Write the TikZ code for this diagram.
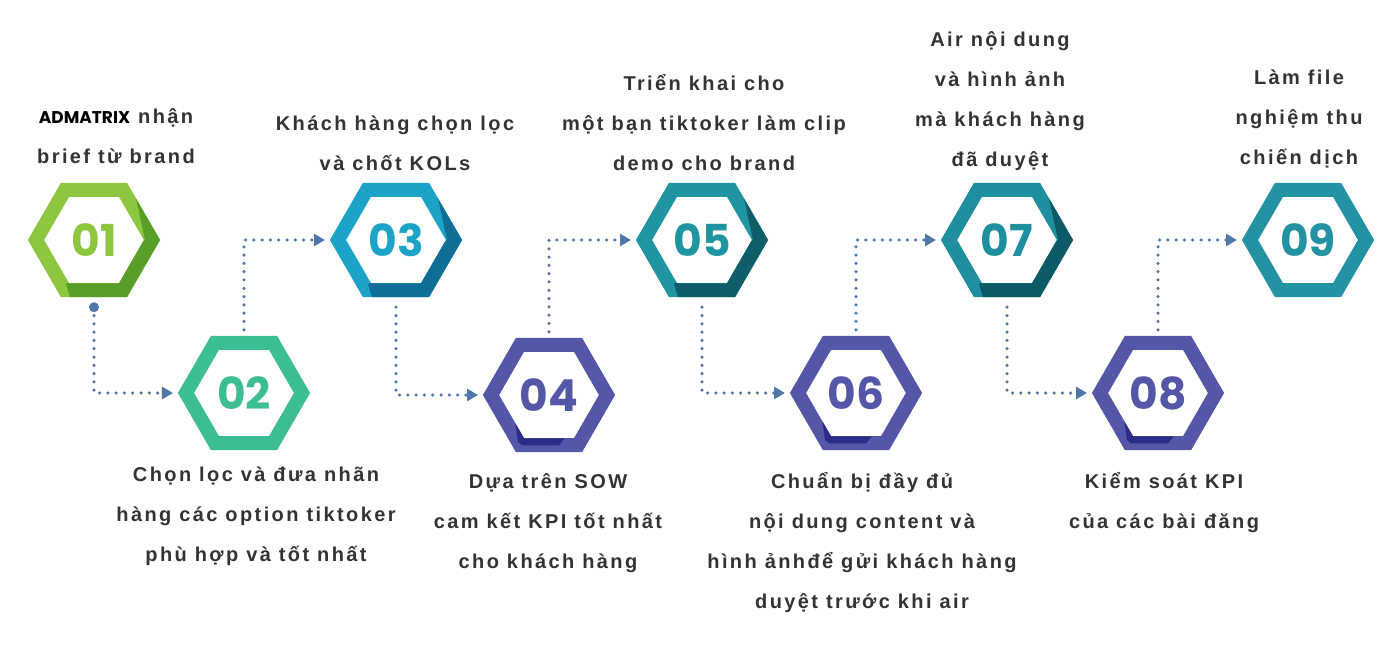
\documentclass[tikz,border=0pt]{standalone}
\usepackage{fontspec}
\setmainfont{Liberation Sans}
\newfontfamily\stepfont{Liberation Sans}[LetterSpace=12]
\newfontfamily\numfont{Poppins}
\usetikzlibrary{shapes.geometric, arrows.meta}
\definecolor{lime1}{HTML}{8DC63F}
\definecolor{lime2}{HTML}{5A9E2A}
\definecolor{mint1}{HTML}{3DBD93}
\definecolor{sky1}{HTML}{1CA4C8}
\definecolor{sky2}{HTML}{0E6E96}
\definecolor{indigo1}{HTML}{5457A8}
\definecolor{indigo2}{HTML}{2A2C86}
\definecolor{teal1}{HTML}{1F95A2}
\definecolor{teal2}{HTML}{0F5D6A}
\definecolor{teal3}{HTML}{1F8E9E}
\definecolor{teal4}{HTML}{0C5A68}
\definecolor{teal5}{HTML}{2392A3}
\definecolor{flowblue}{HTML}{4F77AA}
\definecolor{textgray}{HTML}{333333}

\tikzset{
  hexstep/.style={regular polygon, regular polygon sides=6, minimum size=116pt,
    inner sep=0pt, outer sep=0pt, line width=14pt, draw=#1, fill=white, text=#1,
    font=\numfont\bfseries\fontsize{44}{44}\selectfont},
  steptext/.style={align=center, inner sep=0pt, text=textgray,
    font=\stepfont\bfseries\fontsize{20}{40}\selectfont,
    execute at begin node=\strut, execute at end node=\strut},
  flow/.style={draw=flowblue, line width=3.5pt, line cap=round, dash pattern=on 0pt off 8.3pt,
    -{Triangle[length=11pt,width=12pt]}, shorten >=13pt},
}

% fold shadow on the ring: #1 node, #2 colour, #3 = 1 lower right, 2 lower left
\newcommand{\hexfold}[3]{%
  \begin{scope}[shift={(#1.center)}, even odd rule]
    \clip (0:66)--(60:66)--(120:66)--(180:66)--(240:66)--(300:66)--cycle
      (0:50)--(60:50)--(120:50)--(180:50)--(240:50)--(300:50)--cycle;
    \ifnum#3=1
      \fill[#2] (38,-60) -- (51,0) -- (-28,44) -- (-20,70) -- (90,70) -- (90,-60) -- cycle;
    \else
      \fill[#2] (-34,26) -- (-31,47) -- (-27,50.3) -- (10,50.3) -- (16,43) -- (-25,43) -- cycle;
    \fi
  \end{scope}}

\begin{document}
\begin{tikzpicture}[x=1pt, y=-1pt]
  \useasboundingbox[fill=white] (0,0) rectangle (1400,650);

  % hexagons
  \node[hexstep=lime1] (h1) at (94,240) {01};
  \node[hexstep=mint1] (h2) at (244,393) {02};
  \node[hexstep=sky1] (h3) at (396,240) {03};
  \node[hexstep=indigo1] (h4) at (549,395) {04};
  \node[hexstep=teal1] (h5) at (702,240) {05};
  \node[hexstep=indigo1] (h6) at (856,393) {06};
  \node[hexstep=teal3] (h7) at (1007,240) {07};
  \node[hexstep=indigo1] (h8) at (1158,393) {08};
  \node[hexstep=teal5] (h9) at (1308,240) {09};

  \hexfold{h1}{lime2}{1}
  \hexfold{h3}{sky2}{1}
  \hexfold{h5}{teal2}{1}
  \hexfold{h7}{teal4}{1}
  \hexfold{h4}{indigo2}{2}
  \hexfold{h6}{indigo2}{2}
  \hexfold{h8}{indigo2}{2}

  % texts above
  \node[steptext, anchor=south] (t1) at (116,176) {{\numfont\bfseries\fontsize{17}{40}\selectfont\color{black}ADMATRIX} nhận\\brief từ brand};
  \node[steptext, anchor=south] (t3) at (395,183) {Khách hàng chọn lọc\\và chốt KOLs};
  \node[steptext, anchor=south] (t5) at (704,183) {Triển khai cho\\một bạn tiktoker làm clip\\demo cho brand};
  \node[steptext, anchor=south] (t7) at (1000,179) {Air nội dung\\và hình ảnh\\mà khách hàng\\đã duyệt};
  \node[steptext, anchor=south] (t9) at (1299,177) {Làm file\\nghiệm thu\\chiến dịch};

  % texts below
  \node[steptext, anchor=north] (t2) at (256,467) {Chọn lọc và đưa nhãn\\hàng các option tiktoker\\phù hợp và tốt nhất};
  \node[steptext, anchor=north] (t4) at (548,473) {Dựa trên SOW\\cam kết KPI tốt nhất\\cho khách hàng};
  \node[steptext, anchor=north] (t6) at (862,472) {Chuẩn bị đầy đủ\\nội dung content và\\hình ảnhđể gửi khách hàng\\duyệt trước khi air};
  \node[steptext, anchor=north] (t8) at (1164,472) {Kiểm soát KPI\\của các bài đăng};

  % connectors
  \coordinate (c1) at ([yshift=-17pt]h1.south);
  \fill[flowblue] (c1) circle (5pt);
  \draw[flow] (c1) |- (h2.west);
  \draw[flow] ([yshift=13pt]h2.north) |- (h3.west);
  \draw[flow] ([yshift=-17pt]h3.south) |- (h4.west);
  \draw[flow] ([yshift=13pt]h4.north) |- (h5.west);
  \draw[flow] ([yshift=-17pt]h5.south) |- (h6.west);
  \draw[flow] ([yshift=13pt]h6.north) |- (h7.west);
  \draw[flow] ([yshift=-17pt]h7.south) |- (h8.west);
  \draw[flow] ([yshift=13pt]h8.north) |- (h9.west);
\end{tikzpicture}
\end{document}
